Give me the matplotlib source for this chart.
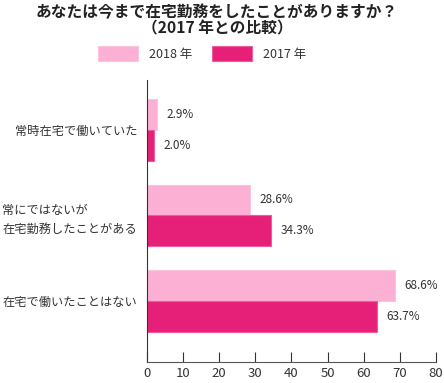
import matplotlib.pyplot as plt
import numpy as np

plt.rcParams['font.family'] = ['Noto Sans CJK JP', 'DejaVu Sans']

categories = ['常時在宅で働いていた', '常にではないが\n在宅勤務したことがある', '在宅で働いたことはない']
years = ['2018 年', '2017 年']
v2018 = [2.9, 28.6, 68.6]
v2017 = [2.0, 34.3, 63.7]
colors = ['#fbb0d4', '#e61f78']
edges = ['#fcc3dd', '#ef5c9b']
text_color = '#333333'

fig = plt.figure(figsize=(4.44, 3.83), dpi=100)
ax = fig.add_axes([0.331, 0.055, 0.651, 0.736])

y = np.arange(len(categories))
h = 0.36
bars = []
for i, (vals, lab) in enumerate(zip([v2018, v2017], years)):
    offs = -h / 2 if i == 0 else h / 2
    b = ax.barh(y + offs, vals, height=h, color=colors[i], edgecolor=edges[i],
                linewidth=0.8, label=lab)
    bars.append(b)
    for yy, v in zip(y + offs, vals):
        ax.text(v + 2.6, yy, f'{v:.1f}%', va='center', ha='left',
                fontsize=8.5, color=text_color)

ax.set_ylim(2.71, -0.58)
ax.set_xlim(0, 80)
ax.set_xticks(range(0, 81, 10))
ax.set_yticks(y)
ax.set_yticklabels(categories, fontsize=8.8, color=text_color)
for t in ax.get_yticklabels():
    t.set_multialignment('left')
    t.set_linespacing(1.55)
ax.tick_params(axis='y', length=0, pad=7)
ax.tick_params(axis='x', direction='in', length=7, labelsize=9.5,
               labelcolor=text_color, color='#333333', pad=4)
for s in ['top', 'right']:
    ax.spines[s].set_visible(False)
ax.spines['left'].set_color('#333333')
ax.spines['bottom'].set_color('#555555')

fig.text(0.489, 0.99, 'あなたは今まで在宅勤務をしたことがありますか？\n（2017 年との比較）',
         ha='center', va='top', fontsize=11.3, fontweight='bold', color='#222222',
         linespacing=1.05)

fig.legend(handles=bars, labels=years, loc='center', bbox_to_anchor=(0.455, 0.86),
           ncol=2, frameon=False, fontsize=9, handlelength=3.2, handleheight=1.4,
           columnspacing=1.6, handletextpad=0.9, labelcolor=text_color)

plt.savefig('out.png', dpi=100)
